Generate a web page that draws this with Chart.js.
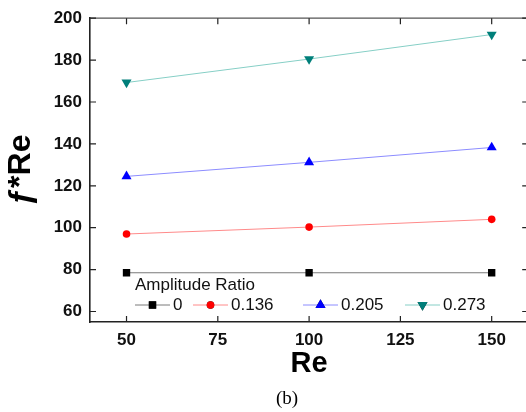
<!DOCTYPE html>
<html>
<head>
<meta charset="utf-8">
<script src="https://cdn.jsdelivr.net/npm/chart.js@4/dist/chart.umd.min.js"></script>
<style>
  html, body { margin: 0; padding: 0; background: #fff; overflow: hidden; }
  #zona { position: relative; width: 526px; height: 412px; overflow: hidden; }
  #grafico { position: absolute; left: 0; top: 0; }
  #pie { position: absolute; left: 257px; width: 60px; top: 387px; text-align: center;
         font-family: "Liberation Serif", "Times New Roman", serif; font-size: 19px; color: #000; }
</style>
</head>
<body>
<div id="zona">
  <canvas id="grafico" width="534" height="412"></canvas>
  <div id="pie">(b)</div>
</div>
<script>
/* ******* Datos **************************** */
const numerosRe = [50, 100, 150];
const ratios = ["0", "0.136", "0.205", "0.273"];
const serie0 = [78.5, 78.5, 78.5];
const serie136 = [97, 100.3, 104];
const serie205 = [124.5, 131.2, 138.3];
const serie273 = [169.3, 180.5, 192.2];
const ticksX = [50, 75, 100, 125, 150];
const ticksY = [60, 80, 100, 120, 140, 160, 180, 200];

const ctx = document.getElementById("grafico");

function puntos(valores) {
  return numerosRe.map((re, i) => ({ x: re, y: valores[i] }));
}

const data = {
  datasets: [
    { label: ratios[0], data: puntos(serie0), borderColor: "#7a7a7a", pointBackgroundColor: "#000",
      pointBorderColor: "#000", pointStyle: "rect", pointRadius: 5.2 },
    { label: ratios[1], data: puntos(serie136), borderColor: "#ff8a8a", pointBackgroundColor: "#ff0000",
      pointBorderColor: "#ff0000", pointStyle: "circle", pointRadius: 3.8 },
    { label: ratios[2], data: puntos(serie205), borderColor: "#8c8cff", pointBackgroundColor: "#0000ff",
      pointBorderColor: "#0000ff", pointStyle: "triangle", pointRadius: 5.8 },
    { label: ratios[3], data: puntos(serie273), borderColor: "#86cfc6", pointBackgroundColor: "#007f7a",
      pointBorderColor: "#007f7a", pointStyle: "triangle", pointRotation: 180, pointRadius: 5.8 }
  ]
};
data.datasets.forEach(d => { d.borderWidth = 1; d.pointBorderWidth = 0; d.fill = false; });

// Marco, ticks hacia dentro y leyenda dibujada a mano
const marco = {
  id: "marco",
  afterDraw(chart) {
    const c = chart.ctx;
    const a = chart.chartArea;
    const x = chart.scales.x, y = chart.scales.y;
    c.save();
    c.strokeStyle = "#555";
    c.lineWidth = 1.2;
    c.beginPath();
    c.moveTo(a.left, a.top); c.lineTo(a.right, a.top);
    c.moveTo(a.right, a.top); c.lineTo(a.right, a.bottom);
    c.stroke();
    c.strokeStyle = "#222";
    c.lineWidth = 1.2;
    c.beginPath();
    x.ticks.forEach(t => {
      const px = x.getPixelForValue(t.value);
      c.moveTo(px, a.bottom); c.lineTo(px, a.bottom - 6);
      c.moveTo(px, a.top); c.lineTo(px, a.top + 6);
    });
    y.ticks.forEach(t => {
      const py = y.getPixelForValue(t.value);
      c.moveTo(a.left, py); c.lineTo(a.left + 6, py);
      c.moveTo(a.right, py); c.lineTo(a.right - 6, py);
    });
    c.stroke();

    // leyenda
    c.fillStyle = "#111";
    c.font = "17px 'Liberation Sans', Arial, sans-serif";
    c.textBaseline = "middle";
    c.textAlign = "left";
    c.fillText("Amplitude Ratio", a.left + 45, a.bottom - 37);
    const inicio = [45, 103, 213, 315];
    const yl = a.bottom - 17;
    chart.data.datasets.forEach((d, i) => {
      const x0 = a.left + inicio[i];
      c.strokeStyle = d.borderColor;
      c.lineWidth = 1;
      c.beginPath();
      c.moveTo(x0, yl); c.lineTo(x0 + 35, yl);
      c.stroke();
      Chart.helpers.drawPoint(c, {
        pointStyle: d.pointStyle, rotation: d.pointRotation || 0, radius: d.pointRadius, borderWidth: 0
      }, x0 + 17.5, yl);
      c.fillStyle = d.pointBackgroundColor;
      c.fill();
      c.fillStyle = "#111";
      c.fillText(d.label, x0 + 38, yl);
    });
    c.restore();
  }
};

const config = {
  type: "line",
  data: data,
  options: {
    responsive: false,
    animation: false,
    layout: { padding: { top: 15.5, right: 3, left: 0, bottom: 0 } },
    scales: {
      x: {
        type: "linear",
        min: 40,
        max: 160,
        afterBuildTicks: s => { s.ticks = ticksX.map(v => ({ value: v })); },
        afterFit: s => { s.height = 90; },
        grid: { drawOnChartArea: false, drawTicks: false },
        border: { display: true, color: "#222", width: 1.6 },
        ticks: { padding: 8, color: "#111", font: { family: "'Liberation Sans', Arial", size: 17, weight: "bold" } },
        title: { display: true, text: "Re", color: "#000", padding: { top: 0, bottom: 31 },
                 font: { family: "'Liberation Sans', Arial", size: 29, weight: "bold" } }
      },
      y: {
        min: 55,
        max: 200,
        afterBuildTicks: s => { s.ticks = ticksY.map(v => ({ value: v })); },
        afterFit: s => { s.width = 90; },
        grid: { drawOnChartArea: false, drawTicks: false },
        border: { display: true, color: "#222", width: 1.6 },
        ticks: { padding: 8, color: "#111", font: { family: "'Liberation Sans', Arial", size: 17, weight: "bold" } },
        title: { display: true, text: "ƒ*Re", color: "#000", padding: { top: 2, bottom: 0 },
                 font: { family: "'Liberation Sans', Arial", size: 32, weight: "bold" } }
      }
    },
    plugins: {
      legend: { display: false },
      tooltip: { enabled: false }
    }
  },
  plugins: [marco]
};

const grafico = new Chart(ctx, config);
</script>
</body>
</html>
